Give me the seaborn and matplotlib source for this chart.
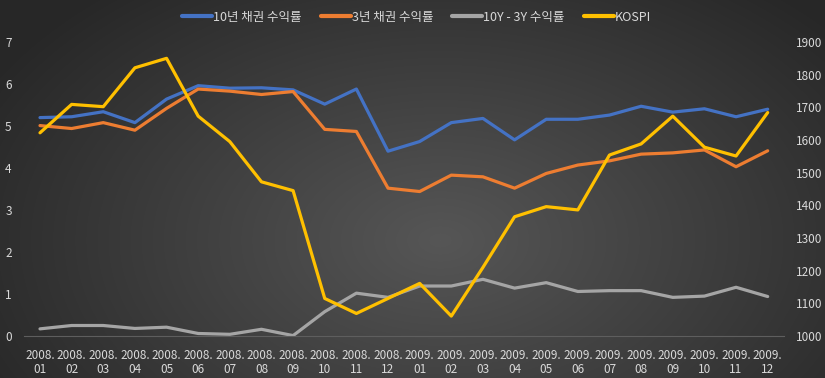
import numpy as np
import pandas as pd
import matplotlib
matplotlib.use("Agg")
import matplotlib.pyplot as plt
import seaborn as sns
from matplotlib.lines import Line2D

months = ["2008.\n01", "2008.\n02", "2008.\n03", "2008.\n04", "2008.\n05", "2008.\n06",
          "2008.\n07", "2008.\n08", "2008.\n09", "2008.\n10", "2008.\n11", "2008.\n12",
          "2009.\n01", "2009.\n02", "2009.\n03", "2009.\n04", "2009.\n05", "2009.\n06",
          "2009.\n07", "2009.\n08", "2009.\n09", "2009.\n10", "2009.\n11", "2009.\n12"]
yield_10y = [5.20, 5.22, 5.34, 5.08, 5.64, 5.96, 5.90, 5.91, 5.86, 5.52, 5.88, 4.40,
             4.63, 5.08, 5.18, 4.67, 5.16, 5.16, 5.26, 5.47, 5.33, 5.41, 5.22, 5.40]
yield_3y = [5.01, 4.94, 5.08, 4.90, 5.42, 5.88, 5.83, 5.75, 5.82, 4.92, 4.87, 3.52,
            3.44, 3.83, 3.79, 3.52, 3.87, 4.07, 4.17, 4.33, 4.36, 4.43, 4.03, 4.41]
spread = [0.17, 0.25, 0.25, 0.18, 0.21, 0.06, 0.04, 0.16, 0.01, 0.58, 1.02, 0.92,
          1.19, 1.19, 1.35, 1.14, 1.27, 1.06, 1.08, 1.08, 0.92, 0.95, 1.16, 0.94]
kospi = [1622, 1709, 1702, 1821, 1850, 1673, 1595, 1472, 1445, 1115, 1069, 1115,
         1161, 1061, 1210, 1365, 1396, 1386, 1554, 1588, 1673, 1578, 1551, 1684]
series_names = ["10년 채권 수익률", "3년 채권 수익률", "10Y - 3Y 수익률", "KOSPI"]
colors = ["#4472C4", "#ED7D31", "#A5A5A5", "#FFC000"]

sns.set_style("white")
plt.rcParams['font.family'] = ['Noto Sans CJK KR', 'DejaVu Sans']
txt = "#D9D9D9"

fig = plt.figure(figsize=(8.25, 3.78), dpi=100)

# radial gradient background
bg = fig.add_axes([0, 0, 1, 1], zorder=-10)
W, H = 825, 378
yy, xx = np.mgrid[0:H, 0:W]
cx, cy = 440, 240
r = np.sqrt(((xx - cx) / 520.0) ** 2 + ((yy - cy) / 330.0) ** 2)
r = np.clip(r, 0, 1)
inner, outer = 0x56 / 255, 0x27 / 255
val = inner + (outer - inner) * r
img = np.dstack([val, val, val])
bg.imshow(img, aspect="auto", extent=[0, 1, 0, 1], origin="upper")
bg.axis("off")

ax = fig.add_axes([0.0293, 0.1111, 0.9204, 0.7778])
ax.patch.set_alpha(0)
x = np.arange(len(months))
df = pd.DataFrame({"x": x, "y10": yield_10y, "y3": yield_3y, "sp": spread, "k": kospi})

for col, c in zip(["y10", "y3", "sp"], colors[:3]):
    sns.lineplot(data=df, x="x", y=col, ax=ax, color=c, linewidth=2.3, legend=False)
ax2 = ax.twinx()
ax2.patch.set_alpha(0)
sns.lineplot(data=df, x="x", y="k", ax=ax2, color=colors[3], linewidth=2.3, legend=False)

ax.set_xlim(-0.5, len(months) - 0.5)
ax.set_ylim(0, 7)
ax2.set_ylim(1000, 1900)
ax.set_yticks(range(0, 8))
ax2.set_yticks(range(1000, 2000, 100))
ax.set_xticks(x)
ax.set_xticklabels(months, fontsize=8.5, color=txt, linespacing=1.1)
ax.tick_params(axis="y", labelsize=8.5, colors=txt, length=0, pad=9)
ax.tick_params(axis="x", length=0, pad=9.5)
ax2.tick_params(axis="y", labelsize=8.5, colors=txt, length=0, pad=9)
for a in (ax, ax2):
    a.set_xlabel("")
    a.set_ylabel("")
    for s in a.spines.values():
        s.set_visible(False)
ax.spines["bottom"].set_visible(True)
ax.spines["bottom"].set_color("#5e5e5e")
ax.spines["bottom"].set_linewidth(0.8)
ax.grid(False)
ax2.grid(False)

handles = [Line2D([0], [0], color=c, lw=3) for c in colors]
fig.legend(handles, series_names, loc="center", bbox_to_anchor=(0.505, 0.955), ncol=4,
           frameon=False, fontsize=9, labelcolor=txt, handlelength=2.4,
           handletextpad=0.1, columnspacing=1.5)

fig.savefig("out.png", dpi=100)
